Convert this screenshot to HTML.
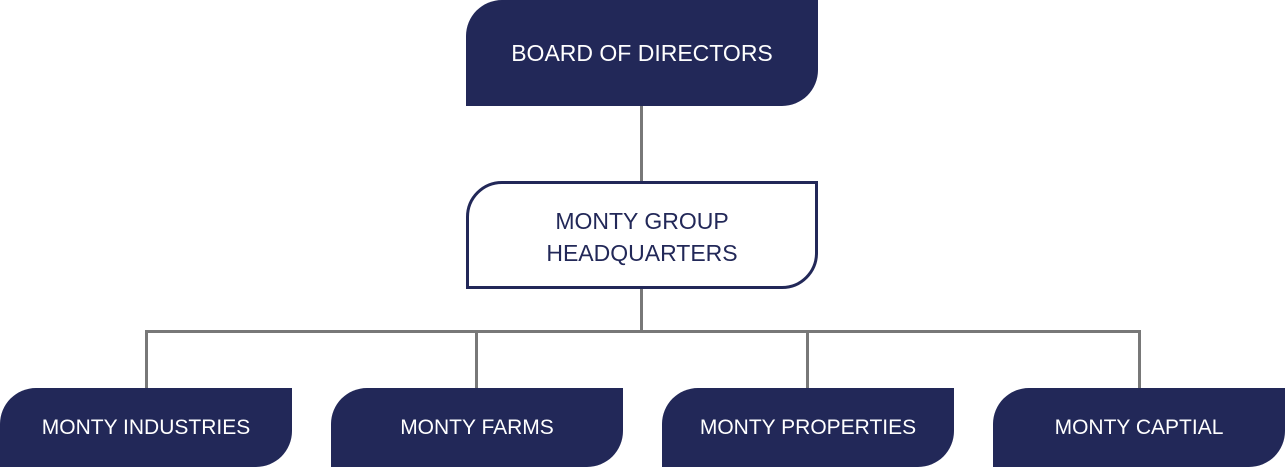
<!DOCTYPE html>
<html><head><style>
body{margin:0;width:1285px;height:467px;background:#fff;position:relative;overflow:hidden;font-family:"Liberation Sans",sans-serif;}
.b{position:absolute;background:#222858;color:#fff;display:flex;align-items:center;justify-content:center;text-align:center;font-size:21px;border-radius:36px 0 36px 0;box-sizing:border-box;}
.l{position:absolute;background:#787878;}
</style></head><body>
<div class="l" style="left:640px;top:100px;width:3px;height:90px"></div>
<div class="l" style="left:640px;top:285px;width:3px;height:48px"></div>
<div class="l" style="left:145px;top:330px;width:996px;height:3px"></div>
<div class="l" style="left:145px;top:330px;width:3px;height:62px"></div>
<div class="l" style="left:475px;top:330px;width:3px;height:62px"></div>
<div class="l" style="left:806px;top:330px;width:3px;height:62px"></div>
<div class="l" style="left:1138px;top:330px;width:3px;height:62px"></div>
<div class="b" style="left:466px;top:0;width:352px;height:106px;font-size:23px">BOARD OF DIRECTORS</div>
<div class="b" style="left:466px;top:181px;width:352px;height:108px;background:#fff;border:3px solid #222858;color:#222858;font-size:23px;line-height:32px;padding-top:4px">MONTY GROUP<br>HEADQUARTERS</div>
<div class="b" style="left:0;top:388px;width:292px;height:79px">MONTY INDUSTRIES</div>
<div class="b" style="left:331px;top:388px;width:292px;height:79px">MONTY FARMS</div>
<div class="b" style="left:662px;top:388px;width:292px;height:79px">MONTY PROPERTIES</div>
<div class="b" style="left:993px;top:388px;width:292px;height:79px">MONTY CAPTIAL</div>
</body></html>
